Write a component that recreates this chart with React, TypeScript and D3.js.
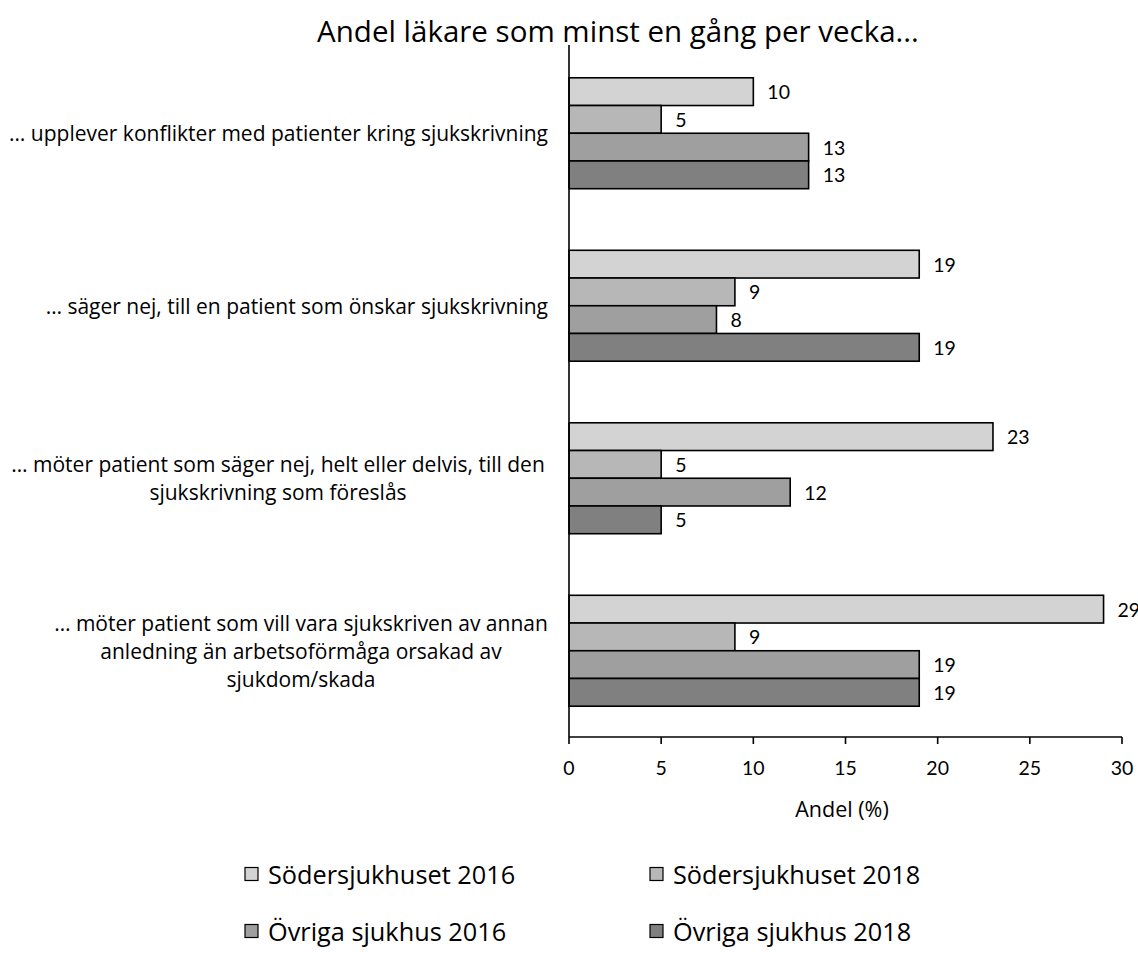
import React from "react";
import * as d3 from "d3";

const title = "Andel läkare som minst en gång per vecka...";
const categories: string[][] = [
  ["… upplever konflikter med patienter kring sjukskrivning"],
  ["… säger nej, till en patient som önskar sjukskrivning"],
  ["… möter patient som säger nej, helt eller delvis, till den", "sjukskrivning som föreslås"],
  ["… möter patient som vill vara sjukskriven av annan", "anledning än arbetsoförmåga orsakad av", "sjukdom/skada"],
];
const seriesNames = ["Södersjukhuset 2016", "Södersjukhuset 2018", "Övriga sjukhus 2016", "Övriga sjukhus 2018"];
const seriesColors = ["#d3d3d3", "#b7b7b7", "#9f9f9f", "#808080"];
const sodersjukhuset2016 = [10, 19, 23, 29];
const sodersjukhuset2018 = [5, 9, 5, 9];
const ovriga2016 = [13, 8, 12, 19];
const ovriga2018 = [13, 19, 5, 19];
const seriesValues = [sodersjukhuset2016, sodersjukhuset2018, ovriga2016, ovriga2018];
const xTicks = [0, 5, 10, 15, 20, 25, 30];
const xLabel = "Andel (%)";

const W = 1138;
const H = 976;
const TEXT_FONT = "'Open Sans', sans-serif";
const NUM_FONT = "Lato, 'Open Sans', sans-serif";

export default function App() {
  const x = d3.scaleLinear().domain([0, 30]).range([569, 1122]);
  const y = d3
    .scaleBand<number>()
    .domain(categories.map((_, i) => i))
    .range([47, 737])
    .paddingInner(0.357)
    .paddingOuter(0.1785);
  const inner = d3
    .scaleBand<number>()
    .domain(seriesNames.map((_, i) => i))
    .range([0, y.bandwidth()]);

  const lineH = 28;
  const labelCenters = [0, 0, 278, 301];

  return (
    <svg width={W} height={H} style={{ position: "absolute", left: 0, top: 0, background: "#fff" }}>
      <text x={618} y={42} textAnchor="middle" fontFamily={TEXT_FONT} fontSize={29.5} fill="#000">
        {title}
      </text>

      {categories.map((lines, ci) => {
        const cy = (y(ci) as number) + y.bandwidth() / 2;
        return lines.length === 1 ? (
          <text key={ci} x={548} y={cy} textAnchor="end" dominantBaseline="central" fontFamily={TEXT_FONT} fontSize={21} fill="#000">
            {lines[0]}
          </text>
        ) : (
          <g key={ci}>
            {lines.map((ln, li) => (
              <text
                key={li}
                x={labelCenters[ci]}
                y={cy + (li - (lines.length - 1) / 2) * lineH}
                textAnchor="middle"
                dominantBaseline="central"
                fontFamily={TEXT_FONT}
                fontSize={21}
                fill="#000"
              >
                {ln}
              </text>
            ))}
          </g>
        );
      })}

      {categories.map((_, ci) =>
        seriesValues.map((vals, si) => {
          const v = vals[ci];
          const by = (y(ci) as number) + (inner(si) as number);
          return (
            <g key={`${ci}-${si}`}>
              <rect
                x={x(0)}
                y={by}
                width={x(v) - x(0)}
                height={inner.bandwidth()}
                fill={seriesColors[si]}
                stroke="#000"
                strokeWidth={1.6}
              />
              <text
                x={x(v) + 14}
                y={by + inner.bandwidth() / 2}
                dominantBaseline="central"
                fontFamily={NUM_FONT}
                fontSize={19.5}
                fill="#000"
              >
                {v}
              </text>
            </g>
          );
        })
      )}

      <line x1={x(0)} x2={x(0)} y1={45} y2={737} stroke="#000" strokeWidth={1.6} />
      <line x1={x(0)} x2={x(30)} y1={737} y2={737} stroke="#000" strokeWidth={1.6} />
      {xTicks.map((t) => (
        <g key={t}>
          <line x1={x(t)} x2={x(t)} y1={737} y2={744} stroke="#000" strokeWidth={1.6} />
          <text x={x(t)} y={767} textAnchor="middle" dominantBaseline="central" fontFamily={NUM_FONT} fontSize={19.5} fill="#000">
            {t}
          </text>
        </g>
      ))}
      <text x={842} y={808} textAnchor="middle" dominantBaseline="central" fontFamily={TEXT_FONT} fontSize={21.5} fill="#000">
        {xLabel}
      </text>

      {seriesNames.map((name, si) => {
        const col = si % 2;
        const row = Math.floor(si / 2);
        const lx = col === 0 ? 245 : 650;
        const ly = row === 0 ? 874 : 931;
        return (
          <g key={name}>
            <rect x={lx} y={ly - 6.5} width={13} height={13} fill={seriesColors[si]} stroke="#000" strokeWidth={1.2} />
            <text x={lx + 23} y={ly} dominantBaseline="central" fontFamily={TEXT_FONT} fontSize={25.3} fill="#000">
              {name}
            </text>
          </g>
        );
      })}
    </svg>
  );
}
